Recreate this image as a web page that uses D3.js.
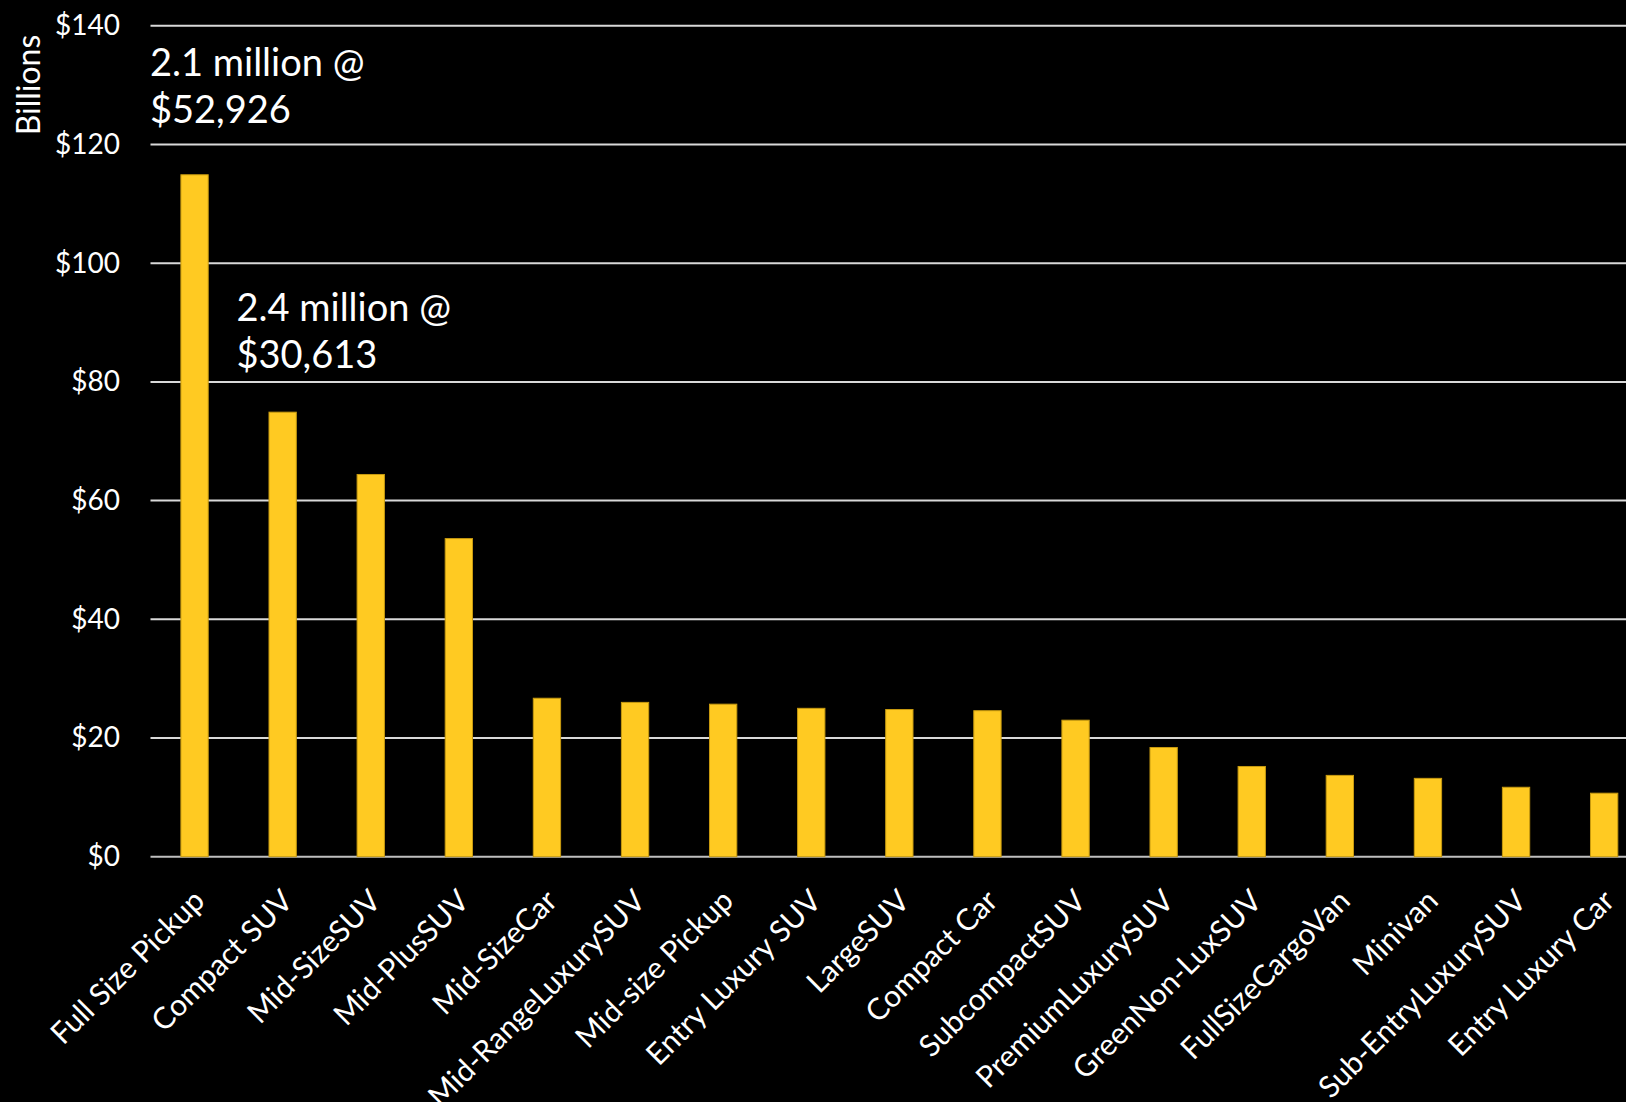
<!DOCTYPE html>
<html>
<head>
<meta charset="utf-8">
<script src="https://cdn.jsdelivr.net/npm/d3@7"></script>
<style>
  html, body { margin: 0; padding: 0; background: #000; overflow: hidden; }
  svg { display: block; }
  text { font-family: Lato, "Open Sans", sans-serif; fill: #fff; }
</style>
</head>
<body>
<svg id="chart" width="1626" height="1102"></svg>
<script>
const categories = ["Full Size Pickup", "Compact SUV", "Mid-SizeSUV", "Mid-PlusSUV", "Mid-SizeCar",
  "Mid-RangeLuxurySUV", "Mid-size Pickup", "Entry Luxury SUV", "LargeSUV", "Compact Car",
  "SubcompactSUV", "PremiumLuxurySUV", "GreenNon-LuxSUV", "FullSizeCargoVan", "Minivan",
  "Sub-EntryLuxurySUV", "Entry Luxury Car"];
const values = [114.9, 74.9, 64.4, 53.6, 26.7, 26.0, 25.7, 25.0, 24.8, 24.6, 23.0, 18.4, 15.2, 13.7, 13.2, 11.7, 10.7];
const yTicks = [0, 20, 40, 60, 80, 100, 120, 140];
const yAxisTitle = "Billions";
const annotations = [
  { category: "Full Size Pickup", lines: ["2.1 million @", "$52,926"] },
  { category: "Compact SUV", lines: ["2.4 million @", "$30,613"] }
];

const svg = d3.select("#chart");
const plotLeft = 150.5, plotTop = 25.8, plotBottom = 856.7;
const step = 88.1;
const plotRight = plotLeft + step * categories.length;

const x = d3.scaleBand().domain(categories).range([plotLeft, plotRight]).paddingInner(0.69).paddingOuter(0.345);
const y = d3.scaleLinear().domain([0, 140]).range([plotBottom, plotTop]);

// gridlines
svg.append("g").selectAll("line").data(yTicks).join("line")
  .attr("x1", plotLeft).attr("x2", plotRight)
  .attr("y1", d => y(d)).attr("y2", d => y(d))
  .attr("stroke", d => d === 0 ? "#bfbfbf" : "#d9d9d9")
  .attr("stroke-width", 2);

// y axis labels
const yAxis = d3.axisLeft(y).tickValues(yTicks).tickFormat(d => "$" + d).tickSize(0).tickPadding(0);
const yg = svg.append("g").attr("transform", `translate(120,0)`).call(yAxis);
yg.select(".domain").remove();
yg.selectAll("text").attr("font-size", 28).attr("fill", "#fff").attr("font-family", "Lato, 'Open Sans', sans-serif");

// bars
svg.append("g").selectAll("rect").data(categories).join("rect")
  .attr("x", d => x(d))
  .attr("width", x.bandwidth())
  .attr("y", (d, i) => y(values[i]))
  .attr("height", (d, i) => y(0) - y(values[i]))
  .attr("fill", "#ffca22")
  .attr("stroke", "#c79a10")
  .attr("stroke-width", 1);

// x axis labels
const xAxis = d3.axisBottom(x).tickSize(0).tickPadding(0);
const xg = svg.append("g").attr("transform", `translate(0,${plotBottom})`).call(xAxis);
xg.select(".domain").remove();
xg.selectAll("text")
  .attr("font-size", 30)
  .attr("fill", "#fff")
  .attr("font-family", "Lato, 'Open Sans', sans-serif")
  .attr("text-anchor", "end")
  .attr("dy", null)
  .attr("y", 0)
  .attr("transform", "translate(-5,29) rotate(-45)")
  .attr("dominant-baseline", "hanging");

// y title
svg.append("text")
  .attr("transform", "translate(40,85) rotate(-90)")
  .attr("text-anchor", "middle")
  .attr("font-size", 32)
  .text(yAxisTitle);

// annotations
const annPos = [{ dx: 150, by: 76 }, { dx: 236.5, by: 321 }];
annotations.forEach((a, i) => {
  const t = svg.append("text").attr("font-size", 38);
  a.lines.forEach((ln, j) => {
    t.append("tspan").attr("x", annPos[i].dx).attr("y", annPos[i].by + j * 46.5).text(ln);
  });
});
</script>
</body>
</html>
